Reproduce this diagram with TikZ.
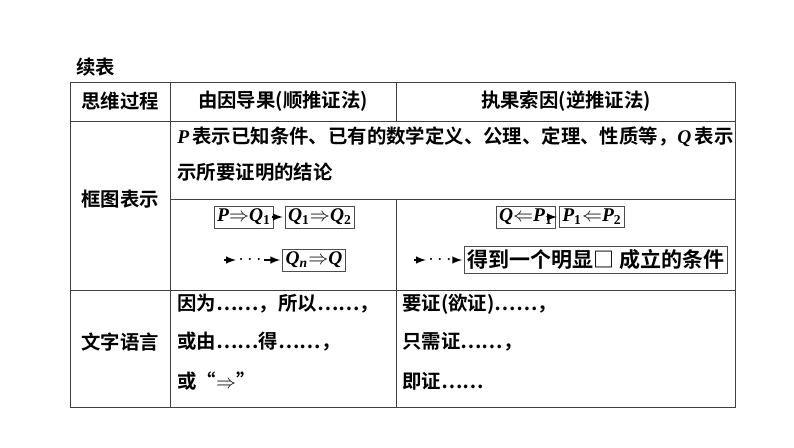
\documentclass[tikz,border=0pt]{standalone}
\usepackage{fontspec}
\setmainfont{Noto Sans CJK SC}[BoldFont={Noto Sans CJK SC Bold}]
\newfontfamily\lat{Liberation Serif}
\newcommand{\mv}[1]{{\lat\bfseries\itshape #1}}
\newcommand{\sbs}[1]{{\lat\bfseries\textsubscript{#1}}}
\newcommand{\rar}{{\lat\bfseries$\Rightarrow$}}
\newcommand{\lar}{{\lat\bfseries$\Leftarrow$}}
\begin{document}
\begin{tikzpicture}[x=0.5pt,y=-0.5pt,
  t/.style={font=\fontsize{9.7}{11}\selectfont\bfseries,inner sep=0pt},
  bx/.style={t,draw=black!70,line width=0.5pt,inner sep=1.5pt,fill=white},
  ar/.style={-latex,line width=0.7pt,shorten >=1pt,shorten <=1pt},
  ln/.style={line width=0.5pt,draw=black!75}]
\useasboundingbox (0,0) rectangle (794,447);
\draw[ln] (70,82) rectangle (735,407);
\draw[ln] (70,121) -- (735,121);
\draw[ln] (170,199) -- (735,199);
\draw[ln] (70,290) -- (735,290);
\draw[ln] (170,82) -- (170,407);
\draw[ln] (396,82) -- (396,121);
\draw[ln] (396,199) -- (396,407);
\node[t] (xb) at (96,67) {续表};
\node[t] (h1) at (120,101) {思维过程};
\node[t] (h2) at (283,101) {由因导果(顺推证法)};
\node[t] (h3) at (566,101) {执果索因(逆推证法)};
\node[t] (h4) at (120,199) {框图表示};
\node[t] (h5) at (120,342) {文字语言};
\node[t,anchor=west] (p1) at (177,137) {\mv{P}\,表示已知条件、已有的数学定义、公理、定理、性质等，\mv{Q}\,表示};
\node[t,anchor=west] (p2) at (177,172) {示所要证明的结论};
\node[bx] (a1) at (244,217) {\mv{P}\rar\mv{Q}\sbs{1}};
\node[bx] (a2) at (320,217) {\mv{Q}\sbs{1}\rar\mv{Q}\sbs{2}};
\draw[ar] (a1) -- (a2);
\coordinate (c1) at (222,260);
\node[t] (d1) at (250,260) {$\cdots$};
\node[bx] (a3) at (314,260) {\mv{Q}\sbs{\itshape n}\rar\mv{Q}};
\draw[ar] (c1) -- (d1);
\draw[ar] (d1) -- (a3);
\node[bx] (b1) at (526,217) {\mv{Q}\lar\mv{P}\sbs{1}};
\node[bx] (b2) at (592,217) {\mv{P}\sbs{1}\lar\mv{P}\sbs{2}};
\draw[ar] (b1) -- (b2);
\coordinate (c2) at (412,260);
\node[t] (d2) at (440,260) {$\cdots$};
\node[bx,font=\fontsize{10.5}{12}\selectfont\bfseries] (b3) at (596,260) {得到一个明显□ 成立的条件};
\draw[ar] (c2) -- (d2);
\draw[ar] (d2) -- (b3);
\node[t,anchor=west] (l1) at (177,304) {因为⋯⋯，所以⋯⋯，};
\node[t,anchor=west] (l2) at (177,342) {或由⋯⋯得⋯⋯，};
\node[t,anchor=west] (l3) at (177,381) {或“\rar”};
\node[t,anchor=west] (r1) at (402,304) {要证(欲证)⋯⋯，};
\node[t,anchor=west] (r2) at (402,342) {只需证⋯⋯，};
\node[t,anchor=west] (r3) at (402,381) {即证⋯⋯};
\end{tikzpicture}
\end{document}
